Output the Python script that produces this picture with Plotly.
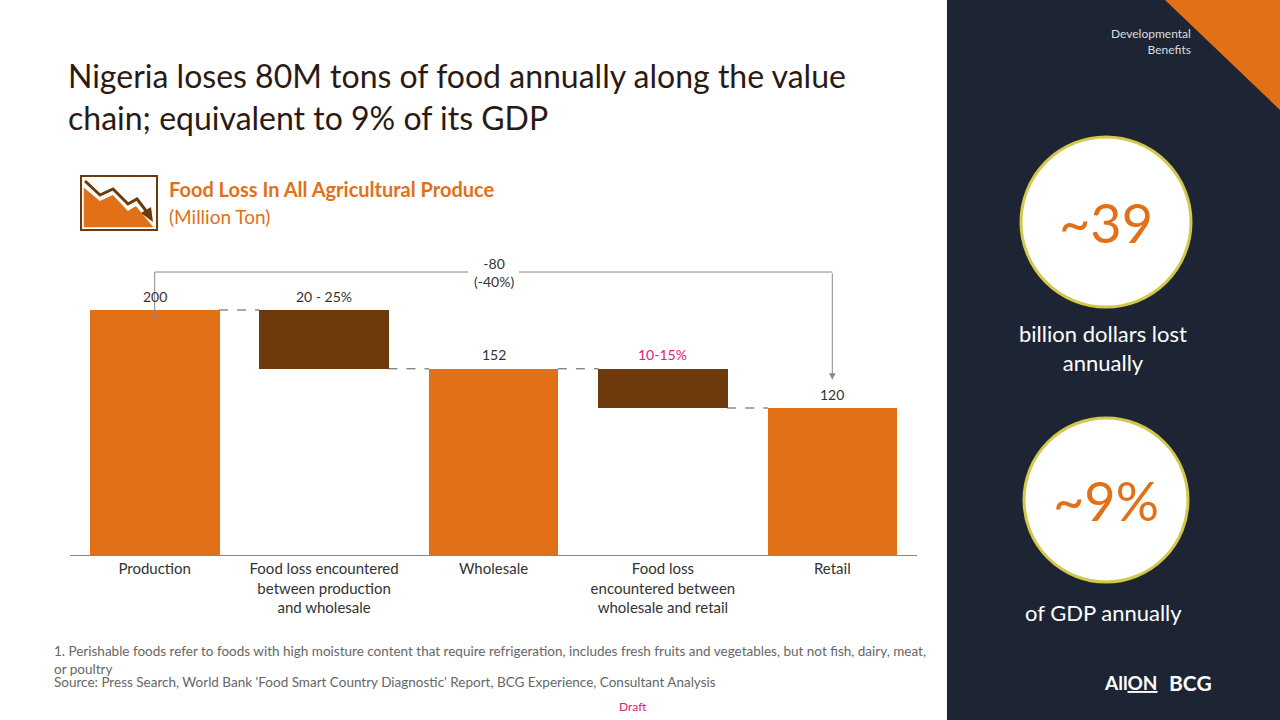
import plotly.graph_objects as go

categories = ["Production", "Food loss encountered<br>between production<br>and wholesale",
              "Wholesale", "Food loss<br>encountered between<br>wholesale and retail", "Retail"]
bar_tops = [200, 200, 152, 152, 120]
bar_bases = [0, 152, 0, 120, 0]
bar_labels = ["200", "20 - 25%", "152", "10-15%", "120"]
total_change = "-80<br>(-40%)"

ORANGE = "#E17017"
BROWN = "#6E3A0C"
PINK = "#E0207A"
TXT = "#333333"
FONT = "Lato"

W, H = 1280, 720
def px(x): return x / W
def py(y): return 1 - y / H

xs = list(range(len(categories)))
colors = [ORANGE, BROWN, ORANGE, BROWN, ORANGE]

fig = go.Figure()

# background panel and decorations
fig.add_shape(type="rect", xref="paper", yref="paper", x0=px(947), x1=1, y0=0, y1=1,
              fillcolor="#1d2534", line_width=0, layer="below")
fig.add_shape(type="path", xref="paper", yref="paper",
              path=f"M {px(1165)},1 L 1,1 L 1,{py(110)} Z", fillcolor=ORANGE, line_width=0)
fig.add_shape(type="circle", xref="paper", yref="paper", x0=px(1021), x1=px(1191),
              y0=py(307), y1=py(137), fillcolor="white", line=dict(color="#D4C84A", width=3))
fig.add_shape(type="circle", xref="paper", yref="paper", x0=px(1024), x1=px(1188),
              y0=py(582), y1=py(418), fillcolor="white", line=dict(color="#D4C84A", width=3))

# icon
fig.add_shape(type="rect", xref="paper", yref="paper", x0=px(81), x1=px(157), y0=py(230), y1=py(176),
              fillcolor="white", line=dict(color=BROWN, width=2))
fig.add_shape(type="path", xref="paper", yref="paper",
              path=f"M {px(83)},{py(186)} L {px(100)},{py(200)} L {px(113)},{py(194)} L {px(128)},{py(210)} "
                   f"L {px(136)},{py(205)} L {px(155)},{py(228)} L {px(83)},{py(228)} Z",
              fillcolor=ORANGE, line=dict(color="white", width=1.5))
fig.add_shape(type="path", xref="paper", yref="paper",
              path=f"M {px(85)},{py(181)} L {px(100)},{py(195)} L {px(113)},{py(189)} L {px(128)},{py(204)} "
                   f"L {px(137)},{py(199)} L {px(147)},{py(212)}",
              line=dict(color=BROWN, width=3))
fig.add_shape(type="path", xref="paper", yref="paper",
              path=f"M {px(141)},{py(213)} L {px(153)},{py(222)} L {px(151)},{py(207)} Z",
              fillcolor=BROWN, line_width=0)

fig.add_trace(go.Bar(
    x=xs, y=[t - b for t, b in zip(bar_tops, bar_bases)], base=bar_bases,
    marker_color=colors, marker_line_width=0, width=0.765, hoverinfo="skip",
))

# value labels
for i, (t, lab) in enumerate(zip(bar_tops, bar_labels)):
    fig.add_annotation(x=i, y=t, text=lab, showarrow=False, yshift=14,
                       font=dict(size=14, color=PINK if i == 3 else TXT, family=FONT))

# dashed connectors
for i in range(len(xs) - 1):
    level = bar_tops[i] if i % 2 == 0 else bar_bases[i]
    fig.add_shape(type="line", xref="x", yref="y", x0=i + 0.38, x1=i + 0.62,
                  y0=level, y1=level, line=dict(color="#555", width=1, dash="dash"))

# bracket
br = 231
fig.add_shape(type="line", xref="x", yref="y", x0=0, x1=0, y0=bar_tops[0] - 8, y1=br,
              line=dict(color="#888", width=1))
fig.add_shape(type="line", xref="x", yref="y", x0=0, x1=1.85, y0=br, y1=br,
              line=dict(color="#888", width=1))
fig.add_shape(type="line", xref="x", yref="y", x0=2.15, x1=4, y0=br, y1=br,
              line=dict(color="#888", width=1))
fig.add_annotation(x=4, y=bar_tops[4] + 23, ax=4, ay=br, xref="x", yref="y",
                   axref="x", ayref="y", showarrow=True, arrowhead=2, arrowsize=1.3,
                   arrowwidth=1, arrowcolor="#888", text="")
fig.add_annotation(x=2, y=br, text=total_change, showarrow=False,
                   font=dict(size=14, color=TXT, family=FONT))

fig.update_xaxes(domain=[px(70), px(917)], range=[-0.5, 4.5], tickvals=xs,
                 ticktext=categories, showgrid=False, showline=True, linecolor="#888",
                 ticks="", tickfont=dict(size=15, color=TXT, family=FONT), fixedrange=True)
fig.update_yaxes(domain=[py(555), py(555 - 250 * 1.225)], range=[0, 250], visible=False,
                 fixedrange=True)

texts = [
    (66, 97, "Nigeria loses 80M tons of food annually along the value<br>chain; equivalent to 9% of its GDP",
     32, "#2a1a14", "left"),
    (167, 189, "<b>Food Loss In All Agricultural Produce</b>", 20, ORANGE, "left"),
    (167, 216, "(Million Ton)", 19, ORANGE, "left"),
    (52, 660, "1. Perishable foods refer to foods with high moisture content that require refrigeration, includes fresh fruits and vegetables, but not fish, dairy, meat,<br>or poultry",
     13.5, "#666", "left"),
    (52, 682, "Source: Press Search, World Bank 'Food Smart Country Diagnostic' Report, BCG Experience, Consultant Analysis",
     13.5, "#666", "left"),
    (633, 706, "Draft", 12, PINK, "center"),
    (1193, 41, "Developmental<br>Benefits", 12, "#dddddd", "right"),
    (1106, 222, "~39", 54, ORANGE, "center"),
    (1103, 348, "billion dollars lost<br>annually", 22, "white", "center"),
    (1106, 500, "~9%", 54, ORANGE, "center"),
    (1103, 612, "of GDP annually", 22, "white", "center"),
    (1130, 682, "<b>All<u>ON</u></b>", 19, "white", "center"),
    (1190, 682, "<b>BCG</b>", 21, "white", "center"),
]
for x, y, t, s, c, al in texts:
    fig.add_annotation(xref="paper", yref="paper", x=px(x), y=py(y), text=t, showarrow=False,
                       xanchor=al, yanchor="middle", align=al,
                       font=dict(size=s, color=c, family=FONT))

fig.update_layout(width=W, height=H, margin=dict(l=0, r=0, t=0, b=0),
                  paper_bgcolor="white", plot_bgcolor="white", showlegend=False,
                  bargap=0)
fig.write_html("out.html", config={"displayModeBar": False},
               post_script="document.body.style.margin='0';document.body.style.overflow='hidden';")
